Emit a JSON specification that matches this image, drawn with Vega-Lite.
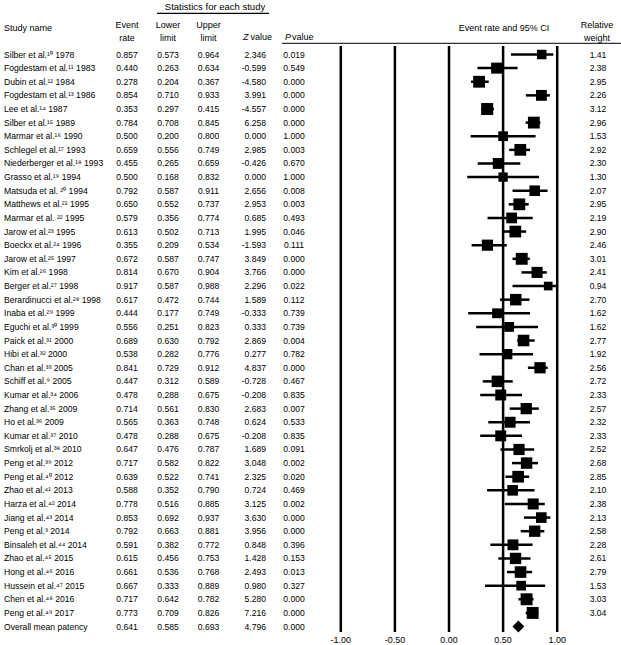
{
  "$schema": "https://vega.github.io/schema/vega-lite/v6.json",
  "width": 621,
  "height": 632,
  "autosize": {"type": "none"},
  "padding": {"left": 0, "top": 0, "right": 0, "bottom": 13},
  "background": "white",
  "config": {
    "view": {"stroke": null},
    "font": "Liberation Sans",
    "text": {"font": "Liberation Sans", "fontSize": 8.6, "color": "black"},
    "locale": {"number": {"decimal": ".", "thousands": ",", "grouping": [3], "currency": ["$", ""], "minus": "-"}}
  },
  "data": {"values": [
    {"s": "Silber et al.¹⁰ 1978", "er": 0.857, "ll": 0.573, "ul": 0.964, "z": 2.346, "p": 0.019, "w": 1.41},
    {"s": "Fogdestam et al.¹¹ 1983", "er": 0.440, "ll": 0.263, "ul": 0.634, "z": -0.599, "p": 0.549, "w": 2.38},
    {"s": "Dubin et al.¹² 1984", "er": 0.278, "ll": 0.204, "ul": 0.367, "z": -4.580, "p": 0.000, "w": 2.95},
    {"s": "Fogdestam et al.¹³ 1986", "er": 0.854, "ll": 0.710, "ul": 0.933, "z": 3.991, "p": 0.000, "w": 2.26},
    {"s": "Lee et al.¹⁴ 1987", "er": 0.353, "ll": 0.297, "ul": 0.415, "z": -4.557, "p": 0.000, "w": 3.12},
    {"s": "Silber  et al.¹⁵ 1989", "er": 0.784, "ll": 0.708, "ul": 0.845, "z": 6.258, "p": 0.000, "w": 2.96},
    {"s": "Marmar et al.¹⁶ 1990", "er": 0.500, "ll": 0.200, "ul": 0.800, "z": 0.000, "p": 1.000, "w": 1.53},
    {"s": "Schlegel et al.¹⁷ 1993", "er": 0.659, "ll": 0.556, "ul": 0.749, "z": 2.985, "p": 0.003, "w": 2.92},
    {"s": "Niederberger et al.¹⁸ 1993", "er": 0.455, "ll": 0.265, "ul": 0.659, "z": -0.426, "p": 0.670, "w": 2.30},
    {"s": "Grasso et al.¹⁹ 1994", "er": 0.500, "ll": 0.168, "ul": 0.832, "z": 0.000, "p": 1.000, "w": 1.30},
    {"s": "Matsuda et al. ²⁰ 1994", "er": 0.792, "ll": 0.587, "ul": 0.911, "z": 2.656, "p": 0.008, "w": 2.07},
    {"s": "Matthews et al.²¹ 1995", "er": 0.650, "ll": 0.552, "ul": 0.737, "z": 2.953, "p": 0.003, "w": 2.95},
    {"s": "Marmar et al. ²² 1995", "er": 0.579, "ll": 0.356, "ul": 0.774, "z": 0.685, "p": 0.493, "w": 2.19},
    {"s": "Jarow et al.²³ 1995", "er": 0.613, "ll": 0.502, "ul": 0.713, "z": 1.995, "p": 0.046, "w": 2.90},
    {"s": "Boeckx et al.²⁴ 1996", "er": 0.355, "ll": 0.209, "ul": 0.534, "z": -1.593, "p": 0.111, "w": 2.46},
    {"s": "Jarow et al.²⁵ 1997", "er": 0.672, "ll": 0.587, "ul": 0.747, "z": 3.849, "p": 0.000, "w": 3.01},
    {"s": "Kim et al.²⁶ 1998", "er": 0.814, "ll": 0.670, "ul": 0.904, "z": 3.766, "p": 0.000, "w": 2.41},
    {"s": "Berger et al.²⁷ 1998", "er": 0.917, "ll": 0.587, "ul": 0.988, "z": 2.296, "p": 0.022, "w": 0.94},
    {"s": "Berardinucci et al.²⁸ 1998", "er": 0.617, "ll": 0.472, "ul": 0.744, "z": 1.589, "p": 0.112, "w": 2.70},
    {"s": "Inaba et al.²⁹ 1999", "er": 0.444, "ll": 0.177, "ul": 0.749, "z": -0.333, "p": 0.739, "w": 1.62},
    {"s": "Eguchi et al.³⁰ 1999", "er": 0.556, "ll": 0.251, "ul": 0.823, "z": 0.333, "p": 0.739, "w": 1.62},
    {"s": "Paick et al.³¹ 2000", "er": 0.689, "ll": 0.63, "ul": 0.792, "z": 2.869, "p": 0.004, "w": 2.77},
    {"s": "Hibi et al.³² 2000", "er": 0.538, "ll": 0.282, "ul": 0.776, "z": 0.277, "p": 0.782, "w": 1.92},
    {"s": "Chan et al.³³ 2005", "er": 0.841, "ll": 0.729, "ul": 0.912, "z": 4.837, "p": 0.000, "w": 2.56},
    {"s": "Schiff et al.⁹ 2005", "er": 0.447, "ll": 0.312, "ul": 0.589, "z": -0.728, "p": 0.467, "w": 2.72},
    {"s": "Kumar et al.³⁴ 2006", "er": 0.478, "ll": 0.288, "ul": 0.675, "z": -0.208, "p": 0.835, "w": 2.33},
    {"s": "Zhang et al.³⁵ 2009", "er": 0.714, "ll": 0.561, "ul": 0.830, "z": 2.683, "p": 0.007, "w": 2.57},
    {"s": "Ho et al.³⁶ 2009", "er": 0.565, "ll": 0.363, "ul": 0.748, "z": 0.624, "p": 0.533, "w": 2.32},
    {"s": "Kumar et al.³⁷ 2010", "er": 0.478, "ll": 0.288, "ul": 0.675, "z": -0.208, "p": 0.835, "w": 2.33},
    {"s": "Smrkolj et al.³⁸ 2010", "er": 0.647, "ll": 0.476, "ul": 0.787, "z": 1.689, "p": 0.091, "w": 2.52},
    {"s": "Peng et al.³⁹ 2012", "er": 0.717, "ll": 0.582, "ul": 0.822, "z": 3.048, "p": 0.002, "w": 2.68},
    {"s": "Peng et al.⁴⁰ 2012", "er": 0.639, "ll": 0.522, "ul": 0.741, "z": 2.325, "p": 0.020, "w": 2.85},
    {"s": "Zhao et al.⁴¹ 2013", "er": 0.588, "ll": 0.352, "ul": 0.790, "z": 0.724, "p": 0.469, "w": 2.10},
    {"s": "Harza et al.⁴² 2014", "er": 0.778, "ll": 0.516, "ul": 0.885, "z": 3.125, "p": 0.002, "w": 2.38},
    {"s": "Jiang et al.⁴³ 2014", "er": 0.853, "ll": 0.692, "ul": 0.937, "z": 3.630, "p": 0.000, "w": 2.13},
    {"s": "Peng et al.³ 2014", "er": 0.792, "ll": 0.663, "ul": 0.881, "z": 3.956, "p": 0.000, "w": 2.58},
    {"s": "Binsaleh et al.⁴⁴ 2014", "er": 0.591, "ll": 0.382, "ul": 0.772, "z": 0.848, "p": 0.396, "w": 2.28},
    {"s": "Zhao et al.⁴⁵ 2015", "er": 0.615, "ll": 0.456, "ul": 0.753, "z": 1.428, "p": 0.153, "w": 2.61},
    {"s": "Hong et al.⁴⁶ 2016", "er": 0.661, "ll": 0.536, "ul": 0.768, "z": 2.493, "p": 0.013, "w": 2.79},
    {"s": "Hussein et al.⁴⁷ 2015", "er": 0.667, "ll": 0.333, "ul": 0.889, "z": 0.980, "p": 0.327, "w": 1.53},
    {"s": "Chen et al.⁴⁸ 2016", "er": 0.717, "ll": 0.642, "ul": 0.782, "z": 5.280, "p": 0.000, "w": 3.03},
    {"s": "Peng et al.⁴⁹ 2017", "er": 0.773, "ll": 0.709, "ul": 0.826, "z": 7.216, "p": 0.000, "w": 3.04},
    {"s": "Overall mean patency", "er": 0.641, "ll": 0.585, "ul": 0.693, "z": 4.796, "p": 0.000, "w": null}
  ]},
  "transform": [{"window": [{"op": "row_number", "as": "row"}]}],
  "layer": [
    {
      "data": {"values": [{"v": -1}, {"v": -0.5}, {"v": 0}, {"v": 0.5}, {"v": 1}]},
      "mark": {"type": "rule", "strokeWidth": 2.5, "color": "black"},
      "encoding": {
        "x": {"field": "v", "type": "quantitative", "scale": {"domain": [-4.1497, 1.5896], "nice": false, "zero": false}, "axis": null},
        "y": {"datum": 0.376, "type": "quantitative", "scale": {"domain": [-3.0015, 43.401], "reverse": true, "nice": false, "zero": false}, "axis": null},
        "y2": {"datum": 43.401}
      }
    },
    {
      "data": {"values": [{"v": -1}, {"v": -0.5}, {"v": 0}, {"v": 0.5}, {"v": 1}]},
      "mark": {"type": "text", "align": "center", "baseline": "middle", "fontSize": 9},
      "encoding": {
        "x": {"field": "v", "type": "quantitative", "axis": null},
        "y": {"datum": 43.96, "type": "quantitative", "axis": null},
        "text": {"field": "v", "type": "quantitative", "format": ".2f"}
      }
    },
    {
      "transform": [{"filter": "datum.w != null"}],
      "mark": {"type": "rule", "strokeWidth": 2.5, "color": "black"},
      "encoding": {
        "x": {"field": "ll", "type": "quantitative", "axis": null},
        "x2": {"field": "ul"},
        "y": {"field": "row", "type": "quantitative", "axis": null}
      }
    },
    {
      "transform": [{"filter": "datum.w != null"}],
      "mark": {"type": "point", "shape": "square", "filled": true, "color": "black", "opacity": 1},
      "encoding": {
        "x": {"field": "er", "type": "quantitative", "axis": null},
        "y": {"field": "row", "type": "quantitative", "axis": null},
        "size": {"field": "w", "type": "quantitative", "scale": {"domain": [0, 3.12], "range": [45, 145]}, "legend": null}
      }
    },
    {
      "transform": [{"filter": "datum.w == null"}],
      "mark": {"type": "point", "shape": "diamond", "filled": true, "color": "black", "opacity": 1, "size": 140},
      "encoding": {
        "x": {"field": "er", "type": "quantitative", "axis": null},
        "y": {"field": "row", "type": "quantitative", "axis": null}
      }
    },
    {
      "mark": {"type": "text", "align": "left", "baseline": "middle"},
      "encoding": {
        "x": {"datum": -4.1128, "type": "quantitative", "axis": null},
        "y": {"field": "row", "type": "quantitative", "axis": null},
        "text": {"field": "s", "type": "nominal"}
      }
    },
    {
      "mark": {"type": "text", "align": "center", "baseline": "middle"},
      "encoding": {
        "x": {"datum": -2.976, "type": "quantitative", "axis": null},
        "y": {"field": "row", "type": "quantitative", "axis": null},
        "text": {"field": "er", "type": "quantitative", "format": ".3f"}
      }
    },
    {
      "mark": {"type": "text", "align": "center", "baseline": "middle"},
      "encoding": {
        "x": {"datum": -2.597, "type": "quantitative", "axis": null},
        "y": {"field": "row", "type": "quantitative", "axis": null},
        "text": {"field": "ll", "type": "quantitative", "format": ".3f"}
      }
    },
    {
      "mark": {"type": "text", "align": "center", "baseline": "middle"},
      "encoding": {
        "x": {"datum": -2.2227, "type": "quantitative", "axis": null},
        "y": {"field": "row", "type": "quantitative", "axis": null},
        "text": {"field": "ul", "type": "quantitative", "format": ".3f"}
      }
    },
    {
      "mark": {"type": "text", "align": "right", "baseline": "middle"},
      "encoding": {
        "x": {"datum": -1.6913, "type": "quantitative", "axis": null},
        "y": {"field": "row", "type": "quantitative", "axis": null},
        "text": {"field": "z", "type": "quantitative", "format": ".3f"}
      }
    },
    {
      "mark": {"type": "text", "align": "center", "baseline": "middle"},
      "encoding": {
        "x": {"datum": -1.4325, "type": "quantitative", "axis": null},
        "y": {"field": "row", "type": "quantitative", "axis": null},
        "text": {"field": "p", "type": "quantitative", "format": ".3f"}
      }
    },
    {
      "transform": [{"filter": "datum.w != null"}],
      "mark": {"type": "text", "align": "center", "baseline": "middle"},
      "encoding": {
        "x": {"datum": 1.3771, "type": "quantitative", "axis": null},
        "y": {"field": "row", "type": "quantitative", "axis": null},
        "text": {"field": "w", "type": "quantitative", "format": ".2f"}
      }
    },
    {
      "data": {"values": [{}]},
      "mark": {"type": "text", "align": "center", "baseline": "middle", "fontSize": 9.5},
      "encoding": {
        "x": {"datum": -2.1627, "type": "quantitative", "axis": null},
        "y": {"datum": -2.52, "type": "quantitative", "axis": null},
        "text": {"value": "Statistics for each study"}
      }
    },
    {
      "data": {"values": [{}]},
      "mark": {"type": "rule", "strokeWidth": 1.2, "color": "black"},
      "encoding": {
        "x": {"datum": -2.6987, "type": "quantitative", "axis": null},
        "x2": {"datum": -1.6636},
        "y": {"datum": -2.025, "type": "quantitative", "axis": null}
      }
    },
    {
      "data": {"values": [{}]},
      "mark": {"type": "rule", "strokeWidth": 1, "color": "black"},
      "encoding": {
        "x": {"datum": -1.5434, "type": "quantitative", "axis": null},
        "x2": {"datum": 1.5896},
        "y": {"datum": 0.178, "type": "quantitative", "axis": null}
      }
    },
    {
      "data": {"values": [{}]},
      "mark": {"type": "text", "align": "left", "baseline": "middle", "fontSize": 9},
      "encoding": {
        "x": {"datum": -4.1128, "type": "quantitative", "axis": null},
        "y": {"datum": -0.93, "type": "quantitative", "axis": null},
        "text": {"value": "Study name"}
      }
    },
    {
      "data": {"values": [{}]},
      "mark": {"type": "text", "align": "center", "baseline": "middle", "lineBreak": "\n", "lineHeight": 13.5, "fontSize": 9},
      "encoding": {
        "x": {"datum": -2.976, "type": "quantitative", "axis": null},
        "y": {"datum": -1.2, "type": "quantitative", "axis": null},
        "text": {"value": "Event\nrate"}
      }
    },
    {
      "data": {"values": [{}]},
      "mark": {"type": "text", "align": "center", "baseline": "middle", "lineBreak": "\n", "lineHeight": 13.5, "fontSize": 9},
      "encoding": {
        "x": {"datum": -2.597, "type": "quantitative", "axis": null},
        "y": {"datum": -1.2, "type": "quantitative", "axis": null},
        "text": {"value": "Lower\nlimit"}
      }
    },
    {
      "data": {"values": [{}]},
      "mark": {"type": "text", "align": "center", "baseline": "middle", "lineBreak": "\n", "lineHeight": 13.5, "fontSize": 9},
      "encoding": {
        "x": {"datum": -2.2227, "type": "quantitative", "axis": null},
        "y": {"datum": -1.2, "type": "quantitative", "axis": null},
        "text": {"value": "Upper\nlimit"}
      }
    },
    {
      "data": {"values": [{}]},
      "mark": {"type": "text", "align": "right", "baseline": "middle", "fontStyle": "italic", "dx": -23.5, "fontSize": 9},
      "encoding": {
        "x": {"datum": -1.6359, "type": "quantitative", "axis": null},
        "y": {"datum": -0.3, "type": "quantitative", "axis": null},
        "text": {"value": "Z"}
      }
    },
    {
      "data": {"values": [{}]},
      "mark": {"type": "text", "align": "right", "baseline": "middle", "fontSize": 9},
      "encoding": {
        "x": {"datum": -1.6359, "type": "quantitative", "axis": null},
        "y": {"datum": -0.3, "type": "quantitative", "axis": null},
        "text": {"value": "value"}
      }
    },
    {
      "data": {"values": [{}]},
      "mark": {"type": "text", "align": "left", "baseline": "middle", "fontStyle": "italic", "fontSize": 9},
      "encoding": {
        "x": {"datum": -1.5157, "type": "quantitative", "axis": null},
        "y": {"datum": -0.3, "type": "quantitative", "axis": null},
        "text": {"value": "P"}
      }
    },
    {
      "data": {"values": [{}]},
      "mark": {"type": "text", "align": "left", "baseline": "middle", "dx": 7, "fontSize": 9},
      "encoding": {
        "x": {"datum": -1.5157, "type": "quantitative", "axis": null},
        "y": {"datum": -0.3, "type": "quantitative", "axis": null},
        "text": {"value": "value"}
      }
    },
    {
      "data": {"values": [{}]},
      "mark": {"type": "text", "align": "center", "baseline": "middle", "fontSize": 9},
      "encoding": {
        "x": {"datum": 0.5083, "type": "quantitative", "axis": null},
        "y": {"datum": -0.93, "type": "quantitative", "axis": null},
        "text": {"value": "Event rate and 95% CI"}
      }
    },
    {
      "data": {"values": [{}]},
      "mark": {"type": "text", "align": "center", "baseline": "middle", "lineBreak": "\n", "lineHeight": 13.5, "fontSize": 9},
      "encoding": {
        "x": {"datum": 1.3678, "type": "quantitative", "axis": null},
        "y": {"datum": -1.2, "type": "quantitative", "axis": null},
        "text": {"value": "Relative\nweight"}
      }
    }
  ]
}
